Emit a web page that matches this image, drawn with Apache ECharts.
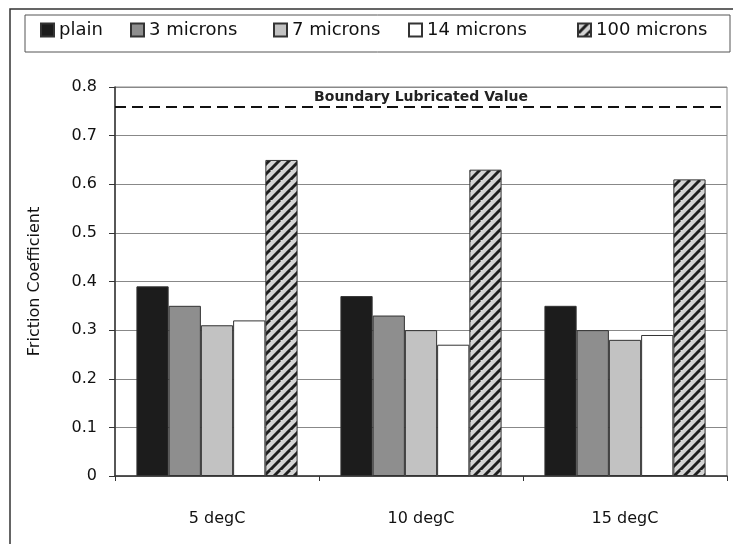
<!DOCTYPE html>
<html><head><meta charset="utf-8">
<script src="https://cdn.jsdelivr.net/npm/echarts@6/dist/echarts.min.js"></script>
<style>html,body{margin:0;padding:0;background:#fff}#c{width:733px;height:544px}</style>
</head><body><div id="c"></div>
<script>
const categories = ['5 degC', '10 degC', '15 degC'];
const seriesNames = ['plain', '3 microns', '7 microns', '14 microns', '100 microns'];
const plain = [0.39, 0.37, 0.35];
const microns3 = [0.35, 0.33, 0.30];
const microns7 = [0.31, 0.30, 0.28];
const microns14 = [0.32, 0.27, 0.29];
const microns100 = [0.65, 0.63, 0.61];
const boundaryValue = 0.757;
const boundaryLabel = 'Boundary Lubricated Value';
const yTicks = [0, 0.1, 0.2, 0.3, 0.4, 0.5, 0.6, 0.7, 0.8];

// hatch pattern
const P = 10;
const pc = document.createElement('canvas');
pc.width = P; pc.height = P;
const g = pc.getContext('2d');
g.fillStyle = '#d4d4d4'; g.fillRect(0, 0, P, P);
g.strokeStyle = '#1e1e1e'; g.lineWidth = 3;
for (let k = -P; k <= 2 * P; k += P) {
  g.beginPath(); g.moveTo(k - P, 2 * P); g.lineTo(k + P, 0); g.stroke();
}
const hatch = { image: pc, repeat: 'repeat' };

const colors = ['#1c1c1c', '#8e8e8e', '#c2c2c2', '#ffffff', hatch];
const values = [plain, microns3, microns7, microns14, microns100];
const font = 'DejaVu Sans';

const series = seriesNames.map((n, i) => ({
  name: n, type: 'bar', data: values[i],
  barGap: '0%', barCategoryGap: '21%',
  itemStyle: { color: colors[i], borderColor: '#333', borderWidth: 1 },
  emphasis: { disabled: true }
}));
series[0].markLine = {
  silent: true, symbol: 'none',
  lineStyle: { color: '#111', type: [11, 6], width: 2 },
  label: { show: true, position: 'insideMiddleTop', formatter: boundaryLabel,
    color: '#222', fontFamily: font, fontSize: 14, fontWeight: 'bold', distance: 2 },
  data: [{ yAxis: boundaryValue }]
};

const legendLefts = [40, 130, 273, 408, 577];
const legends = seriesNames.map((n, i) => ({
  data: [n], left: legendLefts[i], top: 21, padding: 0,
  itemWidth: 13, itemHeight: 13, itemGap: 0,
  icon: 'rect',
  textStyle: { fontFamily: font, fontSize: 18, color: '#111' },
  selectedMode: false
}));

const chart = echarts.init(document.getElementById('c'), null, { renderer: 'canvas' });
chart.setOption({
  animation: false,
  backgroundColor: '#fff',
  color: colors,
  graphic: [
    { type: 'rect', shape: { x: 10, y: 9, width: 730, height: 545 }, style: { fill: 'none', stroke: '#333', lineWidth: 1.5 }, z: 100 },
    { type: 'rect', shape: { x: 25, y: 15, width: 705, height: 37 }, style: { fill: 'none', stroke: '#555', lineWidth: 1 }, z: 100 }
  ],
  legend: legends,
  grid: { left: 115, right: 6, top: 87, bottom: 68, show: true, borderColor: '#888', borderWidth: 1 },
  xAxis: {
    type: 'category', data: categories,
    axisLine: { lineStyle: { color: '#333', width: 1.5 } },
    axisTick: { show: true, length: 5, lineStyle: { color: '#333' } },
    axisLabel: { fontFamily: font, fontSize: 16, color: '#111', margin: 35 }
  },
  yAxis: {
    type: 'value', min: 0, max: 0.8, interval: 0.1,
    name: 'Friction Coefficient', nameLocation: 'middle', nameGap: 72,
    nameTextStyle: { fontFamily: font, fontSize: 16, color: '#111' },
    axisLine: { show: true, lineStyle: { color: '#333', width: 1.5 } },
    axisTick: { show: true, length: 6, lineStyle: { color: '#333' } },
    axisLabel: { fontFamily: font, fontSize: 16, color: '#111', margin: 18,
      formatter: v => { const t = yTicks.find(x => Math.abs(x - v) < 1e-6); return t === undefined ? '' : String(t); } },
    splitLine: { lineStyle: { color: '#888', width: 1 } }
  },
  series: series
});
</script></body></html>
